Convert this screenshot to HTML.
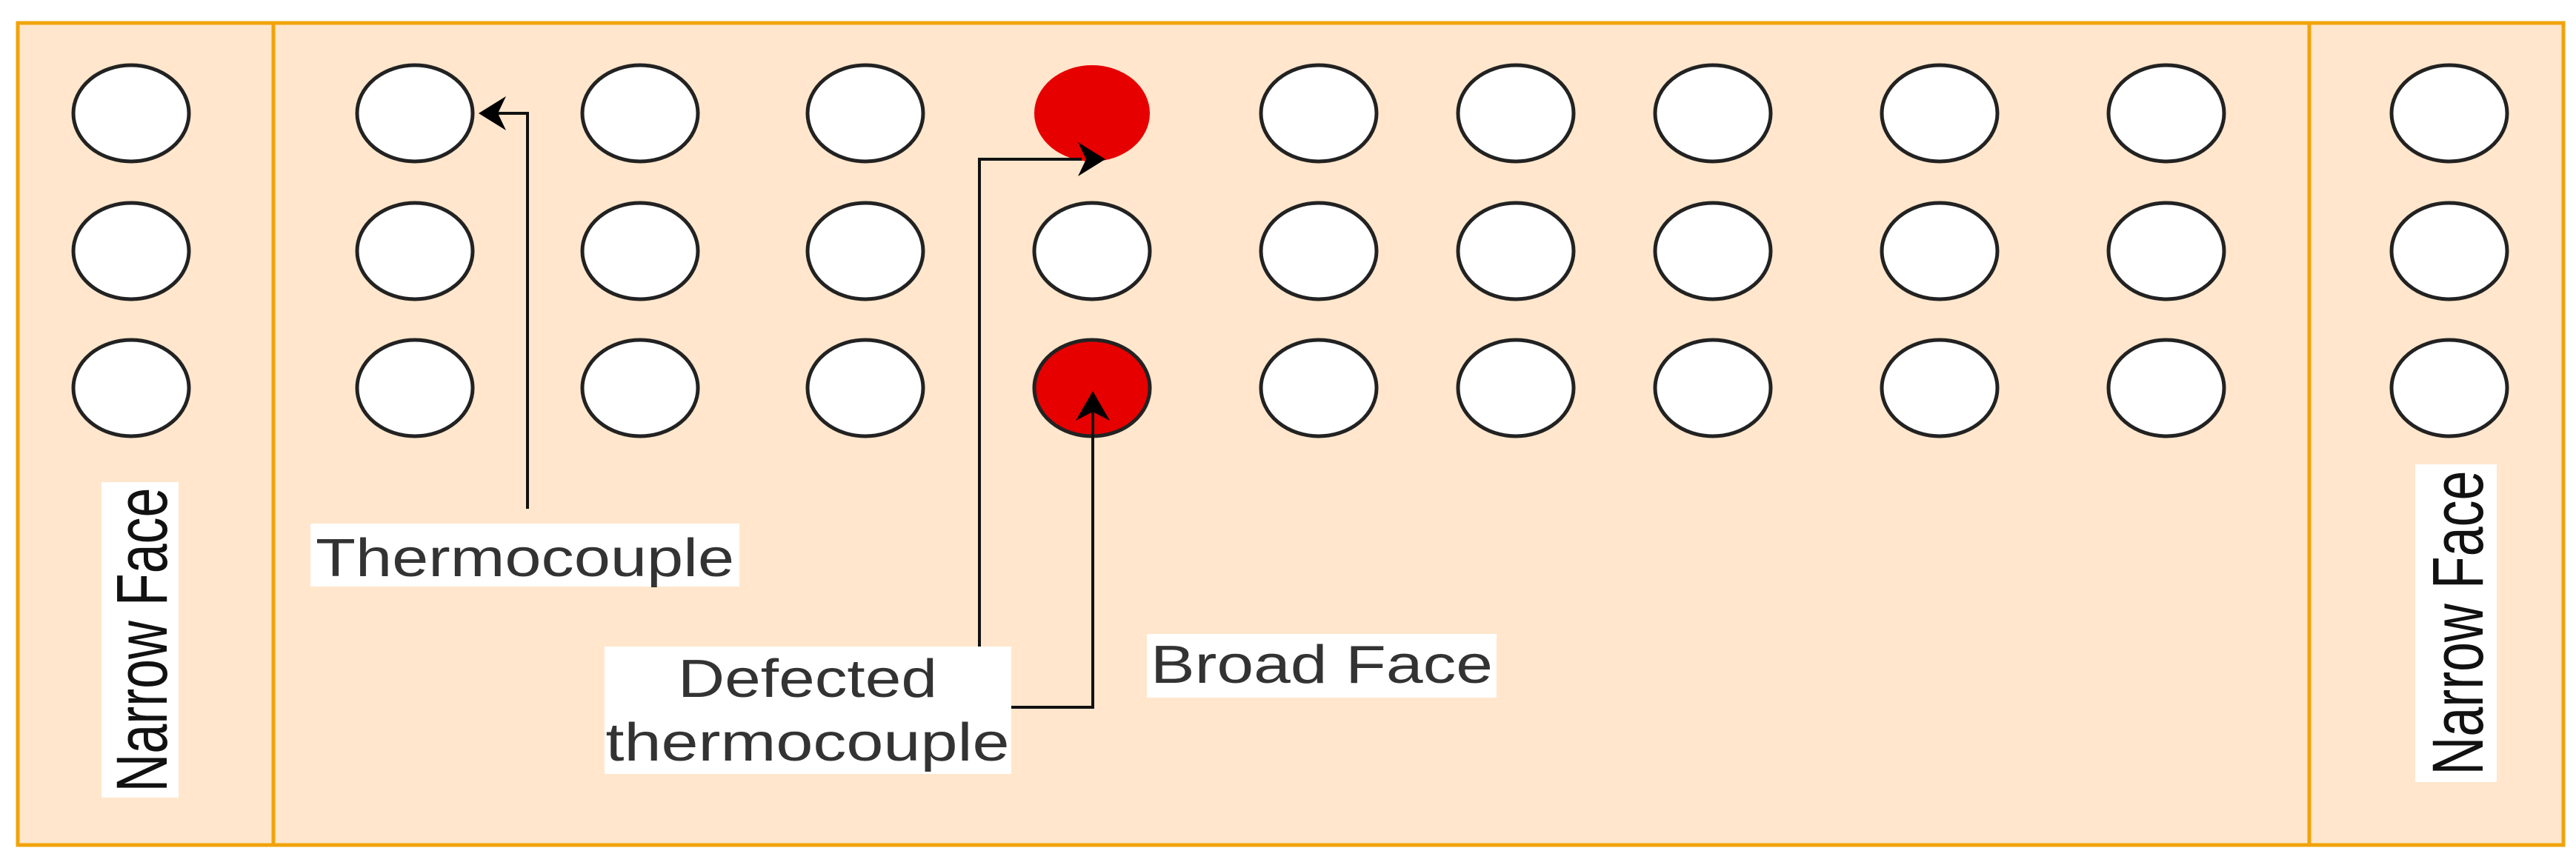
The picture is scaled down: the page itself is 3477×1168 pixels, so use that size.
<!DOCTYPE html>
<html><head><meta charset="utf-8"><style>html,body{margin:0;padding:0;background:#fff}svg{display:block}</style></head>
<body>
<svg xmlns="http://www.w3.org/2000/svg" width="3477" height="1168" viewBox="0 0 3477 1168">
<rect x="0" y="0" width="3477" height="1168" fill="#fff"/>
<rect x="24" y="31" width="3436" height="1110" fill="#ffe6cc" stroke="#f0a30a" stroke-width="5"/>
<line x1="369" y1="31" x2="369" y2="1141" stroke="#f0a30a" stroke-width="5"/>
<line x1="3117" y1="31" x2="3117" y2="1141" stroke="#f0a30a" stroke-width="5"/>
<g stroke="#222" stroke-width="5" fill="#fff">
<g>
<ellipse cx="177" cy="153" rx="78" ry="65"/>
<ellipse cx="560" cy="153" rx="78" ry="65"/>
<ellipse cx="864" cy="153" rx="78" ry="65"/>
<ellipse cx="1168" cy="153" rx="78" ry="65"/>
<ellipse cx="1780" cy="153" rx="78" ry="65"/>
<ellipse cx="2046" cy="153" rx="78" ry="65"/>
<ellipse cx="2312" cy="153" rx="78" ry="65"/>
<ellipse cx="2618" cy="153" rx="78" ry="65"/>
<ellipse cx="2924" cy="153" rx="78" ry="65"/>
<ellipse cx="3306" cy="153" rx="78" ry="65"/>
</g>
<g transform="translate(0,186)">
<ellipse cx="177" cy="153" rx="78" ry="65"/>
<ellipse cx="560" cy="153" rx="78" ry="65"/>
<ellipse cx="864" cy="153" rx="78" ry="65"/>
<ellipse cx="1168" cy="153" rx="78" ry="65"/>
<ellipse cx="1474" cy="153" rx="78" ry="65"/>
<ellipse cx="1780" cy="153" rx="78" ry="65"/>
<ellipse cx="2046" cy="153" rx="78" ry="65"/>
<ellipse cx="2312" cy="153" rx="78" ry="65"/>
<ellipse cx="2618" cy="153" rx="78" ry="65"/>
<ellipse cx="2924" cy="153" rx="78" ry="65"/>
<ellipse cx="3306" cy="153" rx="78" ry="65"/>
</g>
<g transform="translate(0,371)">
<ellipse cx="177" cy="153" rx="78" ry="65"/>
<ellipse cx="560" cy="153" rx="78" ry="65"/>
<ellipse cx="864" cy="153" rx="78" ry="65"/>
<ellipse cx="1168" cy="153" rx="78" ry="65"/>
<ellipse cx="1780" cy="153" rx="78" ry="65"/>
<ellipse cx="2046" cy="153" rx="78" ry="65"/>
<ellipse cx="2312" cy="153" rx="78" ry="65"/>
<ellipse cx="2618" cy="153" rx="78" ry="65"/>
<ellipse cx="2924" cy="153" rx="78" ry="65"/>
<ellipse cx="3306" cy="153" rx="78" ry="65"/>
</g>
</g>
<ellipse cx="1474" cy="153" rx="78" ry="65" fill="#e60000"/>
<ellipse cx="1474" cy="524" rx="78" ry="65" fill="#e60000" stroke="#222" stroke-width="5"/>
<g stroke="#111" stroke-width="4" fill="none">
<polyline points="712,687 712,153 665,153"/>
<polyline points="1322,873 1322,215 1460,215"/>
<polyline points="1365,955 1475,955 1475,550"/>
</g>
<g fill="#000">
<polygon points="646,153 683,130 672,153 683,176"/>
<polygon points="1492,215 1455,192 1466,215 1455,238"/>
<polygon points="1475,528 1452,568 1475,556 1498,568"/>
</g>
<rect x="419" y="707" width="579" height="85" fill="#fff"/>
<text x="426" y="778" font-family="Liberation Sans, sans-serif" font-size="72" fill="#333" textLength="565" lengthAdjust="spacingAndGlyphs">Thermocouple</text>
<rect x="816" y="873" width="549" height="172" fill="#fff"/>
<text x="1090" y="941" font-family="Liberation Sans, sans-serif" font-size="72" fill="#333" text-anchor="middle" textLength="350" lengthAdjust="spacingAndGlyphs">Defected</text>
<text x="1090" y="1027" font-family="Liberation Sans, sans-serif" font-size="72" fill="#333" text-anchor="middle" textLength="545" lengthAdjust="spacingAndGlyphs">thermocouple</text>
<rect x="1548" y="856" width="472" height="86" fill="#fff"/>
<text x="1553" y="922" font-family="Liberation Sans, sans-serif" font-size="72" fill="#333" textLength="462" lengthAdjust="spacingAndGlyphs">Broad Face</text>
<rect x="137" y="651" width="104" height="426" fill="#fff"/>
<g transform="translate(190,864) rotate(-90) scale(1,1.35)">
<text x="0" y="26" font-family="Liberation Sans, sans-serif" font-size="72" fill="#111" text-anchor="middle" textLength="411" lengthAdjust="spacingAndGlyphs">Narrow Face</text>
</g>
<rect x="3260" y="627" width="110" height="429" fill="#fff"/>
<g transform="translate(3316,841) rotate(-90) scale(1,1.35)">
<text x="0" y="26" font-family="Liberation Sans, sans-serif" font-size="72" fill="#111" text-anchor="middle" textLength="411" lengthAdjust="spacingAndGlyphs">Narrow Face</text>
</g>
</svg>
</body></html>
